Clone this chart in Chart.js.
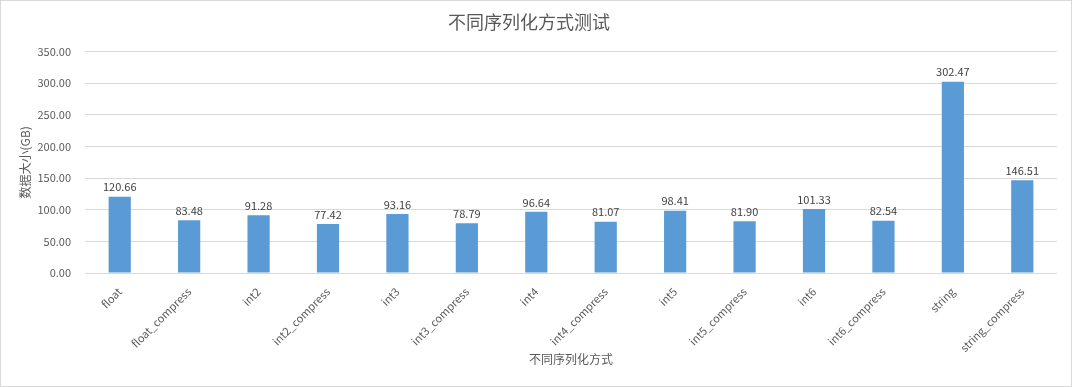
<!DOCTYPE html>
<html lang="zh">
<head>
<meta charset="UTF-8">
<title>不同序列化方式测试</title>
<script src="https://cdn.jsdelivr.net/npm/chart.js"></script>
<style>
  html, body { margin: 0; padding: 0; background: #fff; }
  #box { width: 1070px; height: 385px; border: 1px solid #d9d9d9; }
</style>
</head>
<body>
<div id="box"><canvas id="chart" width="1070" height="385"></canvas></div>
<script>
const categories = ['float', 'float_compress', 'int2', 'int2_compress', 'int3', 'int3_compress',
  'int4', 'int4_compress', 'int5', 'int5_compress', 'int6', 'int6_compress', 'string', 'string_compress'];
const sizes = [120.66, 83.48, 91.28, 77.42, 93.16, 78.79, 96.64, 81.07, 98.41, 81.90, 101.33, 82.54, 302.47, 146.51];
const chartTitle = '不同序列化方式测试';
const yTitle = '数据大小(GB)';
const xTitle = '不同序列化方式';

const fontFamily = '"Noto Sans CJK SC", "Noto Sans", sans-serif';

// values above the bars
const valueLabels = {
  id: 'valueLabels',
  afterDatasetsDraw(chart) {
    const ctx = chart.ctx;
    const meta = chart.getDatasetMeta(0);
    ctx.save();
    ctx.font = '11px ' + fontFamily;
    ctx.fillStyle = '#404040';
    ctx.textAlign = 'center';
    ctx.textBaseline = 'bottom';
    meta.data.forEach((bar, i) => {
      ctx.fillText(sizes[i].toFixed(2), bar.x, bar.y - 4);
    });
    ctx.restore();
  }
};

new Chart(document.getElementById('chart'), {
  type: 'bar',
  data: {
    labels: categories,
    datasets: [{
      data: sizes,
      backgroundColor: '#5b9bd5',
      categoryPercentage: 1,
      barPercentage: 0.32
    }]
  },
  plugins: [valueLabels],
  options: {
    responsive: false,
    animation: false,
    layout: { padding: { left: 0, right: 14, top: 0, bottom: 13 } },
    plugins: {
      legend: { display: false },
      tooltip: { enabled: false },
      title: {
        display: true,
        text: chartTitle,
        color: '#595959',
        font: { family: fontFamily, size: 18, weight: 'normal', lineHeight: 1.2 },
        padding: { top: 10, bottom: 19 }
      }
    },
    scales: {
      x: {
        grid: { display: false },
        border: { display: false },
        ticks: {
          color: '#595959',
          font: { family: fontFamily, size: 11 },
          minRotation: 45,
          maxRotation: 45,
          padding: 4,
          autoSkip: false
        },
        title: {
          display: true,
          text: xTitle,
          color: '#595959',
          font: { family: fontFamily, size: 12 },
          padding: { top: 0, bottom: 6 }
        },
        afterFit(scale) { scale.height = 100; }
      },
      y: {
        min: 0,
        max: 350,
        grid: { color: '#d9d9d9', drawTicks: false },
        border: { display: false },
        ticks: {
          stepSize: 50,
          color: '#595959',
          font: { family: fontFamily, size: 11 },
          padding: 14,
          callback: v => v.toFixed(2)
        },
        title: {
          display: true,
          text: yTitle,
          color: '#595959',
          font: { family: fontFamily, size: 12 },
          padding: { top: 17, bottom: 0 }
        },
        afterFit(scale) { scale.width = 84; }
      }
    }
  }
});
</script>
</body>
</html>
